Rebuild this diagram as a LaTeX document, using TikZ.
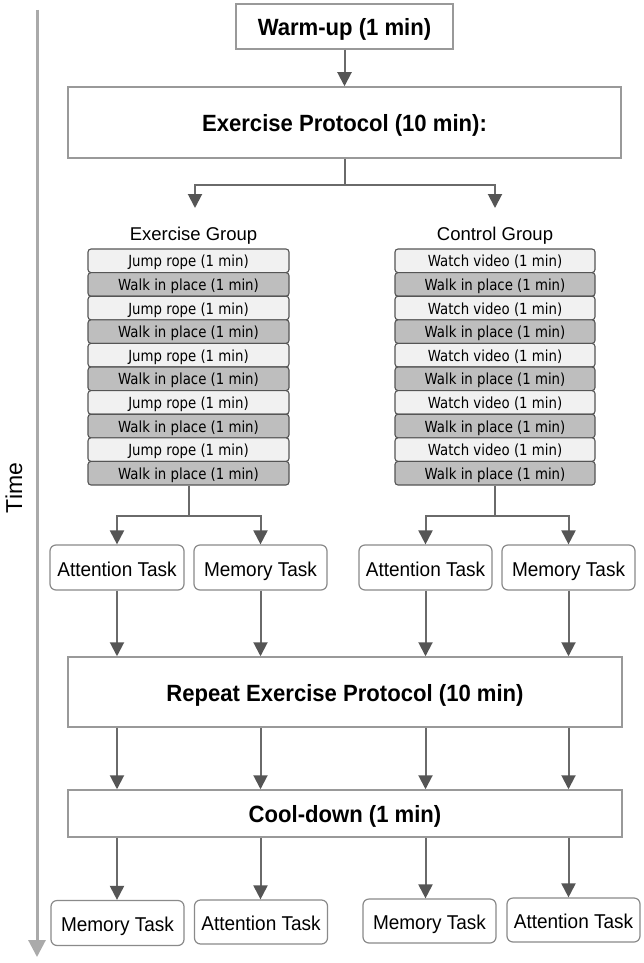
\documentclass[tikz,border=0pt]{standalone}
\usepackage{fontspec}
\setmainfont{Liberation Sans}
\newfontfamily\stackfont[FakeStretch=0.87]{DejaVu Sans}
\newfontfamily\headfont[FakeStretch=0.94]{Liberation Sans}
\newfontfamily\taskfont[FakeStretch=0.95]{Liberation Sans}
\usetikzlibrary{arrows.meta}
\definecolor{boxline}{HTML}{999999}
\definecolor{taskline}{HTML}{8A8A8A}
\definecolor{conn}{HTML}{6A6A6A}
\definecolor{tipcol}{HTML}{555555}
\definecolor{axiscol}{HTML}{AAAAAA}
\definecolor{lightrow}{HTML}{F1F1F1}
\definecolor{darkrow}{HTML}{BEBEBE}
\definecolor{rowline}{HTML}{555555}
\tikzset{
  bigbox/.style={draw=boxline, line width=1.5pt, fill=white, inner sep=0pt,
    text height=18pt, text depth=0pt,
    font=\headfont\fontsize{23.5}{27}\selectfont\bfseries},
  taskbox/.style={draw=taskline, line width=1.2pt, rounded corners=6pt, fill=white,
    inner sep=0pt, minimum width=133pt, minimum height=45pt,
    text height=17pt, text depth=0pt,
    font=\taskfont\fontsize{20}{23}\selectfont},
  rowbox/.style={draw=rowline, line width=1.1pt, rounded corners=3pt, inner sep=0pt,
    minimum height=23.6pt, text height=12pt, text depth=0pt,
    font=\stackfont\fontsize{15.3}{17}\selectfont},
  lrow/.style={rowbox, fill=lightrow},
  drow/.style={rowbox, fill=darkrow},
  grplabel/.style={inner sep=0pt, font=\fontsize{18.5}{22}\selectfont},
  conline/.style={draw=conn, line width=2pt},
  arr/.style={conline, -{Triangle[width=14pt,length=14pt,color=tipcol]}},
}
\begin{document}
\begin{tikzpicture}[x=1pt,y=-1pt]
\useasboundingbox (0,0) rectangle (643,963);
\fill[white] (0,0) rectangle (643,963);

% time axis
\coordinate (tTop) at (37,10);
\coordinate (tBot) at (37,957);
\draw[draw=axiscol, line width=3pt, -{Triangle[width=17pt,length=17pt,color=axiscol]}] (tTop) -- (tBot);
\node[rotate=90, inner sep=0pt, font=\fontsize{23}{26}\selectfont] (time) at (14,488) {Time};

% top boxes
\node[bigbox, minimum width=217pt, minimum height=45pt] (warm) at (344.5,26.5) {Warm-up (1 min)};
\node[bigbox, minimum width=553pt, minimum height=71pt] (ep) at (344.5,122.5) {Exercise Protocol (10 min):};
\draw[arr] (warm.south) -- (ep.north);

% branch
\coordinate (br) at (344.5,185);
\coordinate (exTip) at (195,208);
\coordinate (ctTip) at (495,208);
\draw[conline] (ep.south) -- (br);
\draw[arr] (br) -| (exTip);
\draw[arr] (br) -| (ctTip);

% group labels
\node[grplabel] (exg) at (193.5,236) {Exercise Group};
\node[grplabel] (ctg) at (495,236) {Control Group};

% stacks
\foreach \i in {1,...,10} {
  \pgfmathsetmacro{\yy}{249+23.6*(\i-1)+11.8}
  \ifodd\i
    \node[lrow, minimum width=201pt] (ex\i) at (188.5,\yy) {Jump rope (1 min)};
    \node[lrow, minimum width=200pt] (ct\i) at (495,\yy) {Watch video (1 min)};
  \else
    \node[drow, minimum width=201pt] (ex\i) at (188.5,\yy) {Walk in place (1 min)};
    \node[drow, minimum width=200pt] (ct\i) at (495,\yy) {Walk in place (1 min)};
  \fi
}

% first task row
\node[taskbox, minimum width=134pt] (ta1) at (117,567.5) {Attention Task};
\node[taskbox] (mt1) at (260.5,567.5) {Memory Task};
\node[taskbox] (ta2) at (425.5,567.5) {Attention Task};
\node[taskbox] (mt2) at (568.5,567.5) {Memory Task};

\coordinate (exbr) at (188.5,516);
\coordinate (ctbr) at (495,516);
\draw[conline] (ex10.south) -- (exbr);
\draw[conline] (ct10.south) -- (ctbr);
\draw[arr] (exbr) -| (ta1.north);
\draw[arr] (exbr) -| (mt1.north);
\draw[arr] (ctbr) -| (ta2.north);
\draw[arr] (ctbr) -| (mt2.north);

% repeat and cool-down
\node[bigbox, minimum width=554pt, minimum height=70pt] (rep) at (345,692) {Repeat Exercise Protocol (10 min)};
\node[bigbox, minimum width=554pt, minimum height=47pt] (cool) at (345,813.5) {Cool-down (1 min)};

% bottom task row
\node[taskbox] (bm1) at (117.5,923) {Memory Task};
\node[taskbox, minimum height=44pt] (ba1) at (261,922) {Attention Task};
\node[taskbox, minimum height=44pt] (bm2) at (429.5,921) {Memory Task};
\node[taskbox, minimum height=44pt] (ba2) at (573.5,920) {Attention Task};

\foreach \t/\b in {ta1/bm1, mt1/ba1, ta2/bm2, mt2/ba2} {
  \draw[arr] (\t.south) -- (\t.south |- rep.north);
  \draw[arr] (rep.south -| \t.south) -- (cool.north -| \t.south);
  \draw[arr] (cool.south -| \t.south) -- (\t.south |- \b.north);
}
\end{tikzpicture}
\end{document}
